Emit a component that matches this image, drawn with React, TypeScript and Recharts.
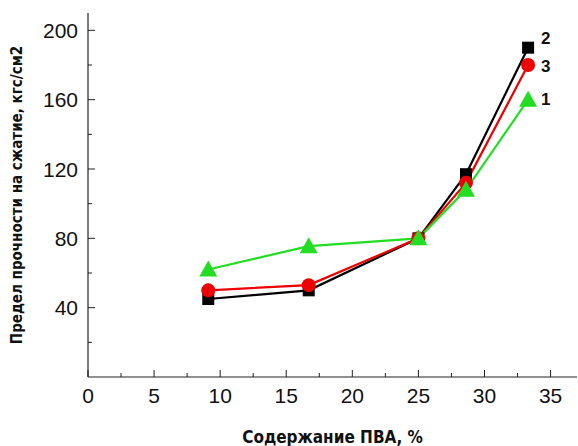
import React from 'react';
import { LineChart, Line, XAxis, YAxis } from 'recharts';

const pvaContent = [9.1, 16.7, 25, 28.6, 33.3];
const series1 = [62, 75.5, 80, 108, 160];
const series2 = [45, 50, 80, 117, 190];
const series3 = [50, 53, 80, 112, 180];
const xTicks = [0, 2.5, 5, 7.5, 10, 12.5, 15, 17.5, 20, 22.5, 25, 27.5, 30, 32.5, 35];
const yTicks = [20, 40, 60, 80, 100, 120, 140, 160, 180, 200];
const seriesLabels = ['1', '2', '3'];

const data = pvaContent.map((x, i) => ({ x, s1: series1[i], s2: series2[i], s3: series3[i] }));

const GREEN = '#22dd22';
const RED = '#ee0000';
const BLACK = '#000000';
const AXIS = '#222222';
const tickFont = "'Liberation Sans', Arial, sans-serif";
const titleFont = "'Liberation Sans Narrow', 'DejaVu Sans Condensed', 'Liberation Sans', Arial, sans-serif";

const XTick = (props: any) => {
  const { x, y, payload } = props;
  const major = payload.value % 5 === 0;
  return (
    <g>
      <line x1={x} x2={x} y1={y} y2={y - (major ? 7 : 4)} stroke={AXIS} strokeWidth={1} />
      {major && (
        <text x={x} y={y + 18} textAnchor="middle" dominantBaseline="central" fontFamily={tickFont} fontSize={21} fill="#111">
          {payload.value}
        </text>
      )}
    </g>
  );
};

const YTick = (props: any) => {
  const { x, y, payload } = props;
  const major = payload.value % 40 === 0;
  return (
    <g>
      <line x1={x} x2={x + (major ? 7 : 4)} y1={y} y2={y} stroke={AXIS} strokeWidth={1} />
      {major && (
        <text x={x - 10} y={y} textAnchor="end" dominantBaseline="central" fontFamily={tickFont} fontSize={21} fill="#111">
          {payload.value}
        </text>
      )}
    </g>
  );
};

const Square = (props: any) => {
  const { cx, cy } = props;
  if (cx == null || cy == null) return null;
  return <rect x={cx - 6} y={cy - 6} width={12} height={12} fill={BLACK} />;
};
const Circle = (props: any) => {
  const { cx, cy } = props;
  if (cx == null || cy == null) return null;
  return <circle cx={cx} cy={cy} r={7} fill={RED} />;
};
const Triangle = (props: any) => {
  const { cx, cy } = props;
  if (cx == null || cy == null) return null;
  return <polygon points={`${cx},${cy - 9} ${cx + 9},${cy + 7} ${cx - 9},${cy + 7}`} fill={GREEN} />;
};

const endLabel = (text: string, dy: number) => (props: any) => {
  const { x, y, index } = props;
  if (index !== pvaContent.length - 1) return null;
  return (
    <text key={`lbl-${text}`} x={x + 13} y={y + dy} dominantBaseline="central" fontFamily={tickFont} fontWeight="bold" fontSize={17} fill="#111">
      {text}
    </text>
  );
};

export default function App() {
  return (
    <div style={{ position: 'absolute', left: 0, top: 0, background: '#fff' }}>
      <LineChart width={578} height={446} data={data} margin={{ top: 13, right: 1, bottom: 0, left: 0 }}>
        <XAxis
          dataKey="x"
          type="number"
          domain={[0, 37]}
          ticks={xTicks}
          interval={0}
          tickSize={0}
          tickMargin={0}
          tickLine={false}
          tick={<XTick />}
          height={69}
          axisLine={{ stroke: AXIS, strokeWidth: 1.2 }}
          label={{
            content: (p: any) => {
              const vb = p.viewBox;
              return (
                <text x={vb.x + vb.width / 2} y={vb.y + 60} textAnchor="middle" dominantBaseline="central" fontFamily={titleFont} fontWeight="bold" fontSize={17} fill="#111">
                  Содержание ПВА, %
                </text>
              );
            },
          }}
        />
        <YAxis
          type="number"
          domain={[0, 210]}
          ticks={yTicks}
          interval={0}
          tickSize={0}
          tickMargin={0}
          tickLine={false}
          tick={<YTick />}
          width={88}
          axisLine={{ stroke: AXIS, strokeWidth: 1.2 }}
          label={{
            content: (p: any) => {
              const vb = p.viewBox;
              const cx = vb.x + 17;
              const cy = vb.y + vb.height / 2;
              return (
                <text x={cx} y={cy} transform={`rotate(-90 ${cx} ${cy})`} textAnchor="middle" dominantBaseline="central" fontFamily={titleFont} fontWeight="bold" fontSize={15} fill="#111">
                  Предел прочности на сжатие, кгс/см2
                </text>
              );
            },
          }}
        />
        <Line dataKey="s2" stroke={BLACK} strokeWidth={2.2} dot={<Square />} isAnimationActive={false} label={endLabel(seriesLabels[1], -9)} />
        <Line dataKey="s3" stroke={RED} strokeWidth={2.2} dot={<Circle />} isAnimationActive={false} label={endLabel(seriesLabels[2], 1)} />
        <Line dataKey="s1" stroke={GREEN} strokeWidth={2.2} dot={<Triangle />} isAnimationActive={false} label={endLabel(seriesLabels[0], 0)} />
      </LineChart>
    </div>
  );
}
